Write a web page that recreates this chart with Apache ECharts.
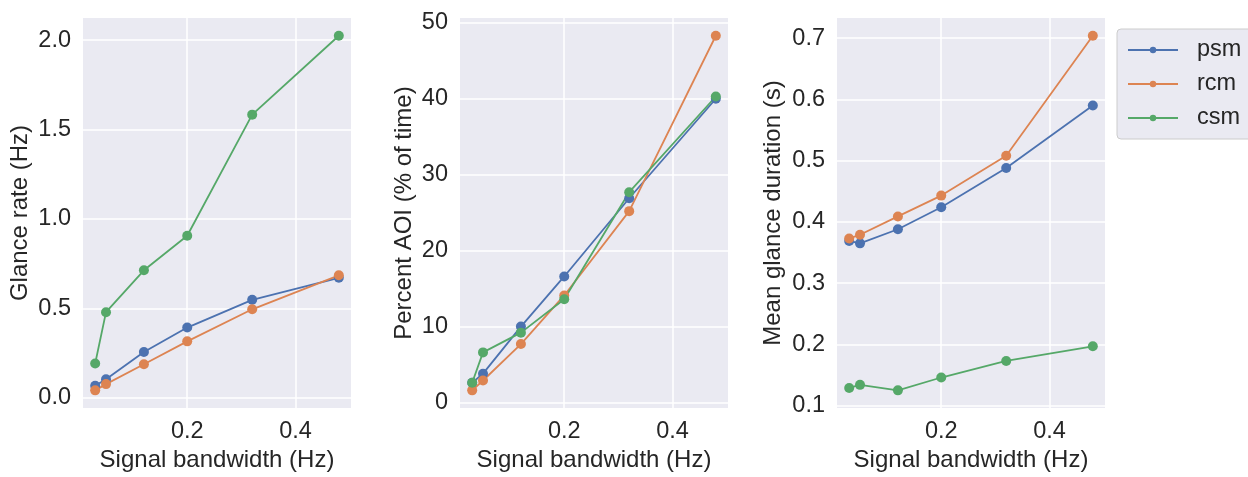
<!DOCTYPE html>
<html>
<head>
<meta charset="utf-8">
<script src="https://cdn.jsdelivr.net/npm/echarts@6/dist/echarts.min.js"></script>
<style>html,body{margin:0;padding:0;background:#fff}#c{width:1248px;height:477px}</style>
</head>
<body>
<div id="c"></div>
<script>
// Data
const bandwidth = [0.03, 0.05, 0.12, 0.2, 0.32, 0.48];
const seriesNames = ['psm', 'rcm', 'csm'];

const glanceRate_psm = [0.068, 0.104, 0.256, 0.393, 0.548, 0.671];
const glanceRate_rcm = [0.042, 0.077, 0.188, 0.316, 0.495, 0.685];
const glanceRate_csm = [0.192, 0.479, 0.713, 0.906, 1.583, 2.024];

const percentAOI_psm = [2.6, 3.8, 10.0, 16.6, 26.9, 40.0];
const percentAOI_rcm = [1.6, 2.9, 7.7, 14.1, 25.2, 48.3];
const percentAOI_csm = [2.6, 6.6, 9.2, 13.6, 27.7, 40.3];

const duration_psm = [0.369, 0.365, 0.388, 0.424, 0.488, 0.590];
const duration_rcm = [0.373, 0.379, 0.409, 0.443, 0.508, 0.704];
const duration_csm = [0.129, 0.134, 0.125, 0.146, 0.173, 0.197];

const xTicks = [0.2, 0.4];
const yTicks1 = [0.0, 0.5, 1.0, 1.5, 2.0];
const yTicks2 = [0, 10, 20, 30, 40, 50];
const yTicks3 = [0.1, 0.2, 0.3, 0.4, 0.5, 0.6, 0.7];

const xName = 'Signal bandwidth (Hz)';
const yNames = ['Glance rate (Hz)', 'Percent AOI (% of time)', 'Mean glance duration (s)'];

const colors = ['#4C72B0', '#DD8452', '#55A868'];
const textColor = '#262626';
const font = 'Liberation Sans, Arial, sans-serif';

function range(arrs) {
  const all = [].concat(...arrs);
  const mn = Math.min(...all), mx = Math.max(...all);
  const m = (mx - mn) * 0.05;
  return [mn - m, mx + m];
}
const xr = range([bandwidth]);
const panels = [
  { data: [glanceRate_psm, glanceRate_rcm, glanceRate_csm], ticks: yTicks1, fmt: v => v.toFixed(1) },
  { data: [percentAOI_psm, percentAOI_rcm, percentAOI_csm], ticks: yTicks2, fmt: v => v.toFixed(0) },
  { data: [duration_psm, duration_rcm, duration_csm], ticks: yTicks3, fmt: v => v.toFixed(1) }
];
const gridLefts = [83, 460, 837];
const nameGaps = [51, 44, 52];

const grid = [], xAxis = [], yAxis = [], series = [];
panels.forEach((p, i) => {
  grid.push({ left: gridLefts[i], width: 268, top: 18, bottom: 63, show: true, backgroundColor: '#EAEAF2', borderWidth: 0 });
  xAxis.push({
    type: 'value', gridIndex: i, min: xr[0], max: xr[1],
    name: xName, nameLocation: 'middle', nameGap: 38,
    nameTextStyle: { fontFamily: font, fontSize: 24, color: textColor },
    axisLine: { show: false }, axisTick: { show: false, customValues: xTicks },
    axisLabel: { customValues: xTicks, formatter: v => v.toFixed(1), fontFamily: font, fontSize: 23.5, color: textColor, margin: 11 },
    splitLine: { show: true, lineStyle: { color: '#ffffff', width: 1.5 } }
  });
  const yr = range(p.data);
  yAxis.push({
    type: 'value', gridIndex: i, min: yr[0], max: yr[1],
    name: yNames[i], nameLocation: 'middle', nameGap: nameGaps[i],
    nameTextStyle: { fontFamily: font, fontSize: 24, color: textColor },
    axisLine: { show: false }, axisTick: { show: false, customValues: p.ticks },
    axisLabel: { customValues: p.ticks, formatter: p.fmt, fontFamily: font, fontSize: 23.5, color: textColor, margin: 12 },
    splitLine: { show: true, lineStyle: { color: '#ffffff', width: 1.5 } }
  });
  p.data.forEach((vals, k) => {
    series.push({
      type: 'line', name: seriesNames[k], xAxisIndex: i, yAxisIndex: i,
      data: bandwidth.map((x, j) => [x, vals[j]]),
      symbol: 'circle', symbolSize: 10,
      lineStyle: { color: colors[k], width: 1.8 },
      itemStyle: { color: colors[k] },
      animation: false, z: 3
    });
  });
});

const chart = echarts.init(document.getElementById('c'), null, { renderer: 'canvas' });
chart.setOption({
  animation: false,
  grid, xAxis, yAxis, series,
  legend: {
    data: seriesNames, orient: 'vertical', left: 1117, top: 29,
    backgroundColor: '#EAEAF2', borderColor: '#CCCCCC', borderWidth: 1, borderRadius: 4,
    padding: [9, 16, 9, 10], itemWidth: 50, itemHeight: 8, itemGap: 10,
    textStyle: { fontFamily: font, fontSize: 23.5, color: textColor, lineHeight: 24, padding: [0, 0, 0, 14] }
  }
});
</script>
</body>
</html>
